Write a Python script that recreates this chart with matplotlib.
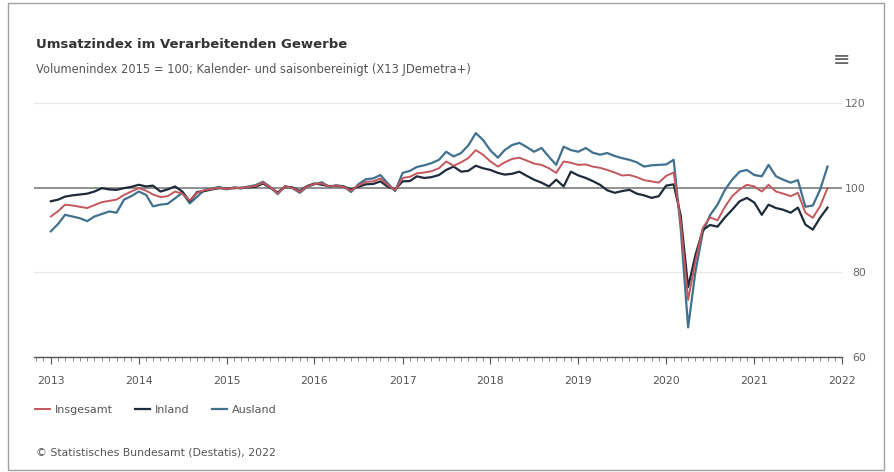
import numpy as np
import pandas as pd
import matplotlib
matplotlib.use("Agg")
import matplotlib.pyplot as plt
import matplotlib.dates as mdates
from matplotlib.patches import Rectangle

# monthly values Jan 2013 - Nov 2021
insgesamt = [
    93.2, 94.5, 96.0, 95.8, 95.5, 95.2, 95.9, 96.6, 96.9, 97.2, 98.3, 99.1,
    99.9, 99.3, 98.4, 97.8, 98.0, 99.1, 98.6, 97.0, 98.8, 99.4, 99.7, 100.0,
    99.7, 100.0, 99.9, 100.2, 100.4, 101.2, 100.1, 98.7, 100.3, 100.0, 99.0, 100.3,
    100.9, 101.0, 100.3, 100.5, 100.2, 99.3, 100.5, 101.4, 101.5, 102.2, 100.6, 99.4,
    102.3, 102.6, 103.4, 103.6, 103.9, 104.6, 106.2, 105.2, 106.0, 107.0, 108.9, 107.8,
    106.2, 105.0, 106.0, 106.8, 107.1, 106.4, 105.7, 105.4, 104.6, 103.5, 106.2, 105.9,
    105.4, 105.5, 105.0, 104.7, 104.2, 103.6, 102.9, 103.0, 102.5, 101.8, 101.5, 101.2,
    102.8, 103.6, 92.0, 73.5, 82.5, 90.5, 93.0, 92.3, 95.5, 98.0, 99.6, 100.7,
    100.3, 99.1, 100.7, 99.1, 98.6, 98.0, 98.8, 94.1, 92.9, 95.6, 99.9,
]
inland = [
    96.8, 97.2, 97.9, 98.2, 98.4, 98.6, 99.1, 99.9, 99.6, 99.5, 99.9, 100.2,
    100.7, 100.3, 100.5, 99.1, 99.6, 100.3, 99.1, 96.8, 99.0, 99.2, 99.6, 99.9,
    99.8, 99.9, 100.0, 100.1, 100.2, 101.0, 100.0, 98.9, 100.2, 100.1, 99.2, 100.4,
    101.0, 100.7, 100.4, 100.4, 100.3, 99.6, 100.2, 100.8, 100.9, 101.5, 100.2, 99.6,
    101.5, 101.6, 102.7, 102.3, 102.5, 103.0, 104.2, 105.0, 103.8, 104.0, 105.2, 104.6,
    104.2, 103.5, 103.1, 103.3, 103.8, 102.8, 101.9, 101.2, 100.3, 101.9, 100.3, 103.8,
    102.9, 102.3, 101.6, 100.7, 99.4, 98.8, 99.2, 99.5, 98.6, 98.2, 97.6, 98.0,
    100.5, 100.8, 93.5, 76.5, 84.0, 90.0, 91.2, 90.8, 93.0, 94.8, 96.8, 97.6,
    96.5, 93.6, 96.0, 95.2, 94.8, 94.1, 95.3, 91.3, 90.1, 92.9, 95.3,
]
ausland = [
    89.7, 91.5, 93.6, 93.2, 92.8, 92.1, 93.2, 93.8, 94.4, 94.1, 97.2, 98.0,
    99.1, 98.3, 95.6, 96.0, 96.2, 97.5, 98.8, 96.3, 97.9, 99.5, 99.8, 100.2,
    99.6, 100.1, 99.8, 100.3, 100.6, 101.4, 100.2, 98.5, 100.4, 99.9, 98.8, 100.2,
    100.8, 101.3, 100.2, 100.6, 100.3, 99.0, 100.8, 102.0, 102.2, 103.0, 101.0, 99.2,
    103.5, 104.0, 104.9, 105.3, 105.8, 106.6, 108.5, 107.4, 108.2, 110.0, 112.9, 111.3,
    108.8, 107.1, 108.9, 110.1, 110.6, 109.6, 108.5, 109.4, 107.3, 105.4, 109.7, 108.9,
    108.5, 109.4, 108.3, 107.8, 108.2, 107.5, 107.0, 106.6, 106.0, 105.0, 105.3, 105.4,
    105.5, 106.6, 90.5, 67.0, 80.0, 89.5, 93.5, 96.0, 99.5, 101.9, 103.8, 104.2,
    103.0, 102.7, 105.4, 102.7, 101.9, 101.2, 101.8, 95.5, 95.8, 99.5, 105.0,
]
months = pd.date_range("2013-01-01", periods=len(insgesamt), freq="MS")
y_ticks = [60, 80, 100, 120]

c_ins = "#c4575c"
c_inl = "#1d2b3a"
c_aus = "#40718f"

fig = plt.figure(figsize=(8.95, 4.72), dpi=100)
ax = fig.add_axes([0.038, 0.2436, 0.903, 0.538])

ax.plot(months, ausland, color=c_aus, lw=1.6, label="Ausland", zorder=3)
ax.plot(months, insgesamt, color=c_ins, lw=1.4, label="Insgesamt", zorder=4)
ax.plot(months, inland, color=c_inl, lw=1.6, label="Inland", zorder=3)

ax.set_ylim(60, 120)
ax.set_xlim(pd.Timestamp("2012-10-23"), pd.Timestamp("2022-01-01"))
ax.set_yticks(y_ticks)
ax.yaxis.tick_right()
ax.tick_params(axis="y", length=0, pad=17, labelsize=7.8, labelcolor="#666666")
for lab in ax.get_yticklabels():
    lab.set_horizontalalignment("right")
ax.grid(axis="y", color="#e8e8e8", lw=0.8, zorder=0)
ax.axhline(100, color="#808080", lw=1.2, zorder=2)

ax.xaxis.set_major_locator(mdates.YearLocator())
ax.xaxis.set_major_formatter(mdates.DateFormatter("%Y"))
ax.xaxis.set_minor_locator(mdates.MonthLocator())
ax.tick_params(axis="x", which="major", length=5, color="#555555", pad=9,
               labelsize=7.8, labelcolor="#555555")
ax.tick_params(axis="x", which="minor", length=3, color="#777777")

for s in ["top", "right", "left"]:
    ax.spines[s].set_visible(False)
ax.spines["bottom"].set_color("#555555")
ax.spines["bottom"].set_linewidth(1.0)

h, l = ax.get_legend_handles_labels()
order = [1, 2, 0]
fig.legend([h[i] for i in order], [l[i] for i in order], loc="center left",
           bbox_to_anchor=(0.028, 0.131), ncol=3, frameon=False, fontsize=8,
           handlelength=1.3, handletextpad=0.5, columnspacing=2.0, labelcolor="#555555")

fig.text(0.04, 0.905, "Umsatzindex im Verarbeitenden Gewerbe", fontsize=9.5,
         fontweight="bold", color="#333333", va="center")
fig.text(0.04, 0.852, "Volumenindex 2015 = 100; Kalender- und saisonbereinigt (X13 JDemetra+)",
         fontsize=8.3, color="#555555", va="center")
fig.text(0.04, 0.042, "© Statistisches Bundesamt (Destatis), 2022", fontsize=7.8,
         color="#555555", va="center")
fig.text(0.940, 0.873, "≡", fontsize=15, color="#666666", ha="center", va="center")

fig.add_artist(Rectangle((0.009, 0.004), 0.979, 0.99, transform=fig.transFigure,
                         fill=False, edgecolor="#a0a0a0", lw=1.0))

fig.savefig("out.png", dpi=100, facecolor="white")
